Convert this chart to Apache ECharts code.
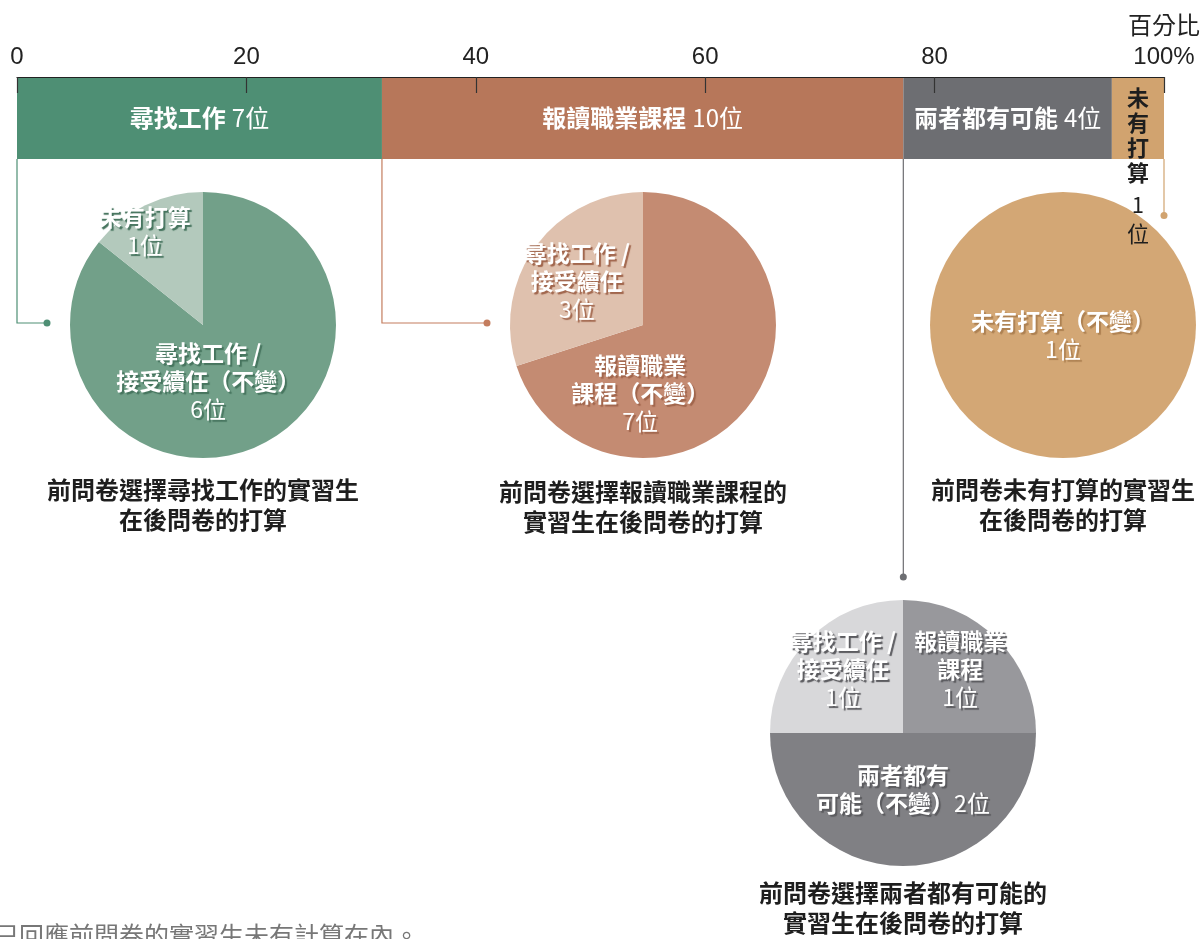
<!DOCTYPE html>
<html>
<head>
<meta charset="utf-8">
<script src="https://cdn.jsdelivr.net/npm/echarts@6/dist/echarts.min.js"></script>
<style>
  html, body { margin: 0; padding: 0; background: #fff; }
  #chart { width: 1204px; height: 939px; }
</style>
</head>
<body>
<div id="chart"></div>
<script>
// Plans in the first questionnaire (stacked bar, share of interns)
const barNames = ['尋找工作', '報讀職業課程', '兩者都有可能', '未有打算'];
const barCounts = [7, 10, 4, 1];

// Plans in the second questionnaire, split by first-questionnaire answer
const jobNames = ['尋找工作 /\n接受續任（不變）', '未有打算'];
const jobCounts = [6, 1];
const courseNames = ['報讀職業\n課程（不變）', '尋找工作 /\n接受續任'];
const courseCounts = [7, 3];
const noneNames = ['未有打算（不變）'];
const noneCounts = [1];
const bothNames = ['報讀職業\n課程', '兩者都有\n可能（不變）', '尋找工作 /\n接受續任'];
const bothCounts = [1, 2, 1];

const captions = [
  '前問卷選擇尋找工作的實習生\n在後問卷的打算',
  '前問卷選擇報讀職業課程的\n實習生在後問卷的打算',
  '前問卷未有打算的實習生\n在後問卷的打算',
  '前問卷選擇兩者都有可能的\n實習生在後問卷的打算'
];
const footnote = '只回應前問卷的實習生未有計算在內。';
const axisUnit = '百分比';

const FONT = '"Liberation Sans", "Noto Sans CJK TC", sans-serif';
const CJK = '"Noto Sans CJK TC", sans-serif';

const total = barCounts.reduce((a, b) => a + b, 0);
const barColors = ['#4e8f74', '#b7775a', '#6d6e72', '#d1a36f'];

const GRID = { left: 17, right: 40, top: 77, height: 82 };
const PIE_R = 133;
const pieCenters = [[203, 325], [643, 325], [1063, 325], [903, 733]];

const chart = echarts.init(document.getElementById('chart'), null, { renderer: 'canvas' });

function barSeries(i) {
  const isLast = i === barNames.length - 1;
  const label = isLast ? {
    show: true,
    position: 'insideTop',
    distance: 8,
    formatter: () => barNames[i].split('').map(c => `{v|${c}}`).join('\n') +
      `\n{vn|${barCounts[i]}}\n{vu|位}`,
    rich: {
      v: { fontSize: 22, fontWeight: 'bold', color: '#1e1e1e', lineHeight: 25, fontFamily: CJK, align: 'center' },
      vn: { fontSize: 22, color: '#1e1e1e', lineHeight: 40, fontFamily: CJK, align: 'center' },
      vu: { fontSize: 22, color: '#1e1e1e', lineHeight: 18, fontFamily: CJK, align: 'center' }
    }
  } : {
    show: true,
    position: 'inside',
    formatter: () => `{b|${barNames[i]}}\u2002{n|${barCounts[i]}位}`,
    rich: {
      b: { fontSize: 24, fontWeight: 'bold', color: '#fff', fontFamily: CJK, lineHeight: 30 },
      n: { fontSize: 24, color: '#fff', fontFamily: CJK, lineHeight: 30 }
    }
  };
  return {
    type: 'bar',
    name: barNames[i],
    stack: 'plan',
    barWidth: '100%',
    data: [barCounts[i] / total * 100],
    itemStyle: { color: barColors[i] },
    label: label,
    silent: true,
    emphasis: { disabled: true },
    z: 2
  };
}

// offsets nudge each slice label from its default inside spot
function pieSeries(names, counts, colors, center, shadow, offsets, inlineIdx, position) {
  const txt = {
    fontSize: 23, color: '#fff', lineHeight: 28, fontFamily: CJK,
    textShadowColor: shadow, textShadowBlur: 1, textShadowOffsetX: 2, textShadowOffsetY: 2
  };
  return {
    type: 'pie',
    center: center,
    radius: PIE_R,
    startAngle: 90,
    clockwise: true,
    silent: true,
    avoidLabelOverlap: false,
    emphasis: { disabled: true },
    data: names.map((n, i) => ({ name: n, value: counts[i], itemStyle: { color: colors[i] } })),
    labelLine: { show: false },
    label: {
      show: true,
      position: position || 'inside',
      formatter: p => {
        const lines = p.name.split('\n').map(s => `{b|${s}}`).join('\n');
        const cnt = `{n|${p.value}位}`;
        return p.dataIndex === inlineIdx ? lines + cnt : lines + '\n' + cnt;
      },
      rich: {
        b: Object.assign({ fontWeight: 'bold' }, txt),
        n: Object.assign({}, txt)
      }
    },
    labelLayout: p => ({ dx: offsets[p.dataIndex][0], dy: offsets[p.dataIndex][1], hideOverlap: false })
  };
}

// Connector from a bar segment edge down to its pie:
// [position on the percentage axis, category index, pie index]
const cum = [0];
barCounts.forEach((c, i) => cum.push(cum[i] + c / total * 100));
const connectorData = [
  [cum[0], 0, 0],
  [cum[1], 0, 1],
  [cum[4], 0, 2],
  [cum[2], 0, 3]
];
const connColors = ['#4e8f74', '#c47d5e', '#d1a36f', '#6d6e72'];
const GAP = 23;

const connectorSeries = {
  type: 'custom',
  coordinateSystem: 'cartesian2d',
  clip: false,
  silent: true,
  z: 1,
  encode: { x: 0, y: 1 },
  data: connectorData,
  renderItem: (params, api) => {
    const pi = api.value(2);
    const top = api.coord([api.value(0), api.value(1)]);
    const band = api.size([0, 1])[1];
    const x = top[0];
    const y0 = top[1] + band / 2;
    const [cx, cy] = pieCenters[pi];
    let pts, dot;
    if (Math.abs(x - cx) < PIE_R) {
      const yEnd = cy - Math.sqrt(PIE_R * PIE_R - (x - cx) * (x - cx)) - GAP;
      pts = [[x, y0], [x, yEnd]];
      dot = [x, yEnd];
    } else {
      const yLine = cy - 2;
      const xEnd = cx - PIE_R - GAP;
      pts = [[x, y0], [x, yLine], [xEnd, yLine]];
      dot = [xEnd, yLine];
    }
    return {
      type: 'group',
      children: [
        { type: 'polyline', shape: { points: pts }, style: { stroke: connColors[pi], lineWidth: 1.2, fill: null } },
        { type: 'circle', shape: { cx: dot[0], cy: dot[1], r: 3.5 }, style: { fill: connColors[pi] } }
      ]
    };
  }
};

// Captions under each pie and the footnote
const captionTops = [475, 477, 475, 878];
const graphics = captions.map((t, i) => ({
  type: 'text', silent: true,
  x: pieCenters[i][0], y: captionTops[i],
  style: {
    text: t, fill: '#1e1e1e', fontSize: 24, fontWeight: 'bold', fontFamily: CJK,
    lineHeight: 30, align: 'center', verticalAlign: 'top'
  }
}));
graphics.push({
  type: 'text', silent: true,
  x: -6, y: 923,
  style: { text: footnote, fill: '#777', fontSize: 25, fontFamily: CJK, verticalAlign: 'top' }
});

chart.setOption({
  animation: false,
  backgroundColor: '#fff',
  grid: {
    left: GRID.left, right: GRID.right, top: GRID.top, height: GRID.height,
    containLabel: false, outerBoundsMode: 'none'
  },
  xAxis: {
    type: 'value',
    position: 'top',
    min: 0, max: 100, interval: 20,
    z: 10,
    axisLine: { show: true, lineStyle: { color: '#222', width: 1.2 } },
    axisTick: { show: true, inside: true, length: 16, lineStyle: { color: '#333', width: 1.2 } },
    splitLine: { show: false },
    axisLabel: {
      fontSize: 24, color: '#222', margin: 3, fontFamily: FONT, lineHeight: 33,
      formatter: v => v === 100 ? `{u|${axisUnit}}\n100%` : String(v),
      rich: { u: { fontSize: 24, color: '#222', fontFamily: CJK, lineHeight: 33 } }
    }
  },
  yAxis: { type: 'category', data: ['前問卷'], show: false },
  graphic: graphics,
  series: [
    ...barNames.map((_, i) => barSeries(i)),
    connectorSeries,
    pieSeries(jobNames, jobCounts, ['#72a089', '#b3c9bc'], pieCenters[0], '#46745e',
      [[-25, -6], [-28, -31]], -1),
    pieSeries(courseNames, courseCounts, ['#c48b72', '#dfc1ae'], pieCenters[1], '#a0654c',
      [[-59, 27], [-10, -3]], -1),
    pieSeries(noneNames, noneCounts, ['#d3a775'], pieCenters[2], '#ad8152',
      [[0, 10]], -1, 'center'),
    pieSeries(bothNames, bothCounts, ['#98989c', '#808084', '#d8d8da'], pieCenters[3], '#5a5a5e',
      [[8, -15], [0, -13], [-11, -15]], 1)
  ]
});
</script>
</body>
</html>
